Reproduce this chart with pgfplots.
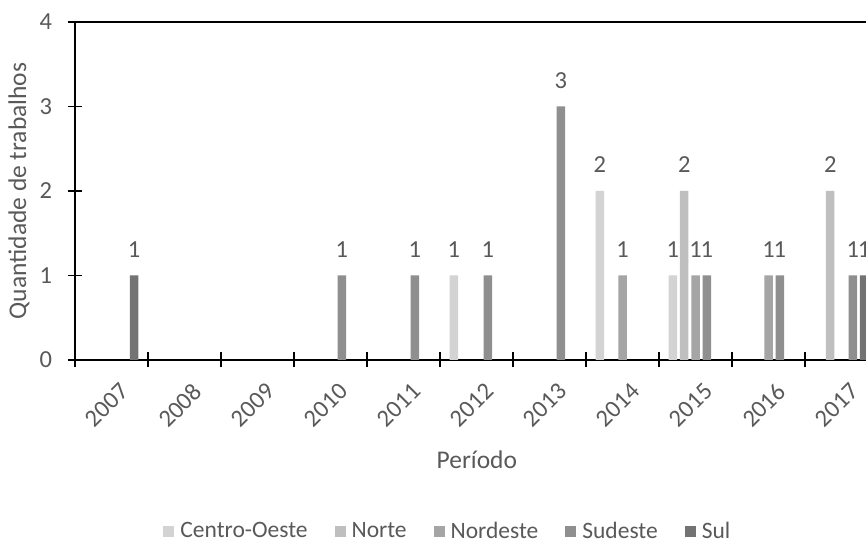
\documentclass[border=0pt]{standalone}
\usepackage{pgfplots}
\pgfplotsset{compat=1.18}
\usepackage{fontspec}
\setmainfont{Carlito}
\definecolor{txt}{HTML}{595959}
\definecolor{cCO}{HTML}{D3D3D3}
\definecolor{cNO}{HTML}{BFBFBF}
\definecolor{cNE}{HTML}{A5A5A5}
\definecolor{cSE}{HTML}{8F8F8F}
\definecolor{cSU}{HTML}{737373}
\newcommand{\tfont}{\fontsize{24.5}{29}\selectfont}
\newcommand{\gfont}{\fontsize{23.5}{28}\selectfont}
\newcommand{\lfont}{\fontsize{25.5}{30}\selectfont}
\begin{document}
\begin{tikzpicture}
\begin{axis}[
  at={(75pt,180pt)}, anchor=south west,
  scale only axis, width=791pt, height=338pt,
  xmin=-0.5, xmax=10.3356, ymin=0, ymax=4,
  axis lines*=left,
  axis line style={black, line width=1.1pt},
  /pgf/number format/assume math mode=true,
  ybar=2.8pt, bar width=8.5pt,
  legend image code/.code={\draw[#1, draw=none] (0pt,-6pt) rectangle (11pt,5pt); \path (15pt,0pt);},
  xtick={0,...,10},
  xticklabels={2007,2008,2009,2010,2011,2012,2013,2014,2015,2016,2017},
  minor xtick={-0.5,0.5,...,9.5},
  tick align=center, major tick length=15pt, minor tick length=15pt,
  tick style={black, line width=1.1pt},
  major x tick style={draw=none},
  ytick={0,1,2,3}, extra y ticks={4}, extra y tick style={grid=major},
  major grid style={black, line width=1.1pt},
  xticklabel style={font=\tfont, text=txt, rotate=45, anchor=north east, inner sep=0pt, xshift=-5pt, yshift=-15pt},
  yticklabel style={font=\tfont, text=txt, xshift=-12pt},
  xlabel={Período},
  xlabel style={font=\lfont, text=txt, at={(axis description cs:0.508,-0.296)}, anchor=center},
  ylabel={Quantidade de trabalhos},
  ylabel style={font=\lfont, text=txt, at={(axis description cs:-0.0708,0.5)}, anchor=center},
  nodes near coords,
  every node near coord/.append style={font=\tfont, text=txt, inner sep=0pt, anchor=south, yshift=18pt},
  legend style={at={(axis description cs:0.4714,-0.506)}, anchor=center, draw=none, fill=none,
    font=\gfont, text=txt, inner sep=0pt, /tikz/every even column/.append style={column sep=25pt}},
  legend columns=5,
  clip=true,
]
\addplot[fill=cCO, draw=none] coordinates {(5,1) (7,2) (8,1)};
\addlegendentry{Centro-Oeste}
\addplot[fill=cNO, draw=none] coordinates {(8,2) (10,2)};
\addlegendentry{Norte}
\addplot[fill=cNE, draw=none] coordinates {(7,1) (8,1) (9,1)};
\addlegendentry{Nordeste}
\addplot[fill=cSE, draw=none] coordinates {(3,1) (4,1) (5,1) (6,3) (8,1) (9,1) (10,1)};
\addlegendentry{Sudeste}
\addplot[fill=cSU, draw=none] coordinates {(0,1) (10,1)};
\addlegendentry{Sul}
\end{axis}
\pgfresetboundingbox
\useasboundingbox (0,0) rectangle (866pt,540pt);
\end{tikzpicture}
\end{document}
